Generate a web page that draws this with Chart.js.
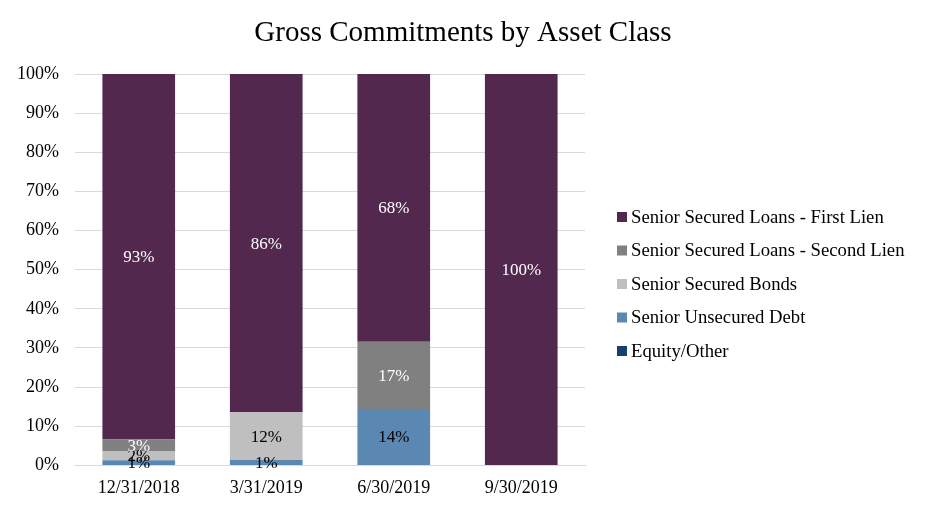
<!DOCTYPE html>
<html>
<head>
<meta charset="utf-8">
<script src="https://cdn.jsdelivr.net/npm/chart.js@4/dist/chart.umd.min.js"></script>
<style>
  html, body { margin: 0; padding: 0; background: #ffffff; }
  #wrap { width: 926px; height: 511px; position: relative; }
</style>
</head>
<body>
<div id="wrap"><canvas id="c" width="926" height="511"></canvas></div>
<script>
const categories = ['12/31/2018', '3/31/2019', '6/30/2019', '9/30/2019'];
const firstLien   = [93.4, 86.4, 68.4, 100];
const secondLien  = [2.9, 0, 17.2, 0];
const securedBonds = [2.4, 12.2, 0, 0];
const unsecuredDebt = [1.3, 1.4, 14.4, 0];
const equityOther = [0, 0, 0, 0];
const yTicks = [0, 10, 20, 30, 40, 50, 60, 70, 80, 90, 100];
const titleText = 'Gross Commitments by Asset Class';

const FONT = "'Liberation Serif', 'Times New Roman', serif";

const datasets = [
  { label: 'Equity/Other', data: equityOther, backgroundColor: '#17406d', textColor: '#000000' },
  { label: 'Senior Unsecured Debt', data: unsecuredDebt, backgroundColor: '#5b87b3', textColor: '#000000' },
  { label: 'Senior Secured Bonds', data: securedBonds, backgroundColor: '#bfbfbf', textColor: '#000000' },
  { label: 'Senior Secured Loans - Second Lien', data: secondLien, backgroundColor: '#808080', textColor: '#ffffff' },
  { label: 'Senior Secured Loans - First Lien', data: firstLien, backgroundColor: '#52284f', textColor: '#ffffff' }
];

const labelPlugin = {
  id: 'segLabels',
  afterDatasetsDraw(chart) {
    const ctx = chart.ctx;
    ctx.save();
    ctx.font = '17px ' + FONT;
    ctx.textAlign = 'center';
    ctx.textBaseline = 'middle';
    chart.data.datasets.forEach((ds, i) => {
      const meta = chart.getDatasetMeta(i);
      meta.data.forEach((el, j) => {
        const v = ds.data[j];
        if (!v) return;
        const y = (el.y + el.base) / 2;
        ctx.fillStyle = ds.textColor;
        ctx.fillText(Math.round(v) + '%', el.x, y + 1);
      });
    });
    ctx.restore();
  }
};

// Title centred on the whole canvas and custom right-hand legend
const decorations = {
  id: 'decorations',
  afterDraw(chart) {
    const ctx = chart.ctx;
    ctx.save();
    ctx.fillStyle = '#000000';
    ctx.font = '29px ' + FONT;
    ctx.textAlign = 'center';
    ctx.textBaseline = 'middle';
    ctx.fillText(titleText, chart.width / 2, 33);

    const items = chart.data.datasets.slice().reverse();
    const boxX = 617, startY = 217, step = 33.5, box = 10;
    ctx.font = '18.7px ' + FONT;
    ctx.textAlign = 'left';
    items.forEach((ds, k) => {
      const cy = startY + k * step;
      ctx.fillStyle = ds.backgroundColor;
      ctx.fillRect(boxX, cy - box / 2, box, box);
      ctx.fillStyle = '#000000';
      ctx.fillText(ds.label, boxX + 14, cy + 1);
    });
    ctx.restore();
  }
};

new Chart(document.getElementById('c'), {
  type: 'bar',
  data: {
    labels: categories,
    datasets: datasets.map(d => ({
      label: d.label,
      data: d.data,
      backgroundColor: d.backgroundColor,
      textColor: d.textColor,
      borderWidth: 0,
      barPercentage: 0.57,
      categoryPercentage: 1.0
    }))
  },
  options: {
    responsive: false,
    animation: false,
    devicePixelRatio: 1,
    layout: { padding: { left: 1, right: 341, top: 74, bottom: 0 } },
    plugins: {
      tooltip: { enabled: false },
      legend: { display: false },
      title: { display: false }
    },
    scales: {
      x: {
        stacked: true,
        grid: { display: false, drawTicks: false },
        border: { display: true, color: '#d9d9d9', width: 1 },
        ticks: { color: '#000000', font: { family: FONT, size: 18 }, padding: 12 }
      },
      y: {
        stacked: true,
        min: 0,
        max: 100,
        afterBuildTicks(axis) { axis.ticks = yTicks.map(v => ({ value: v })); },
        grid: { color: '#d9d9d9', drawTicks: false, lineWidth: 1 },
        border: { display: false },
        ticks: {
          color: '#000000',
          font: { family: FONT, size: 18 },
          padding: 16,
          callback: v => v + '%'
        }
      }
    }
  },
  plugins: [labelPlugin, decorations]
});
</script>
</body>
</html>
